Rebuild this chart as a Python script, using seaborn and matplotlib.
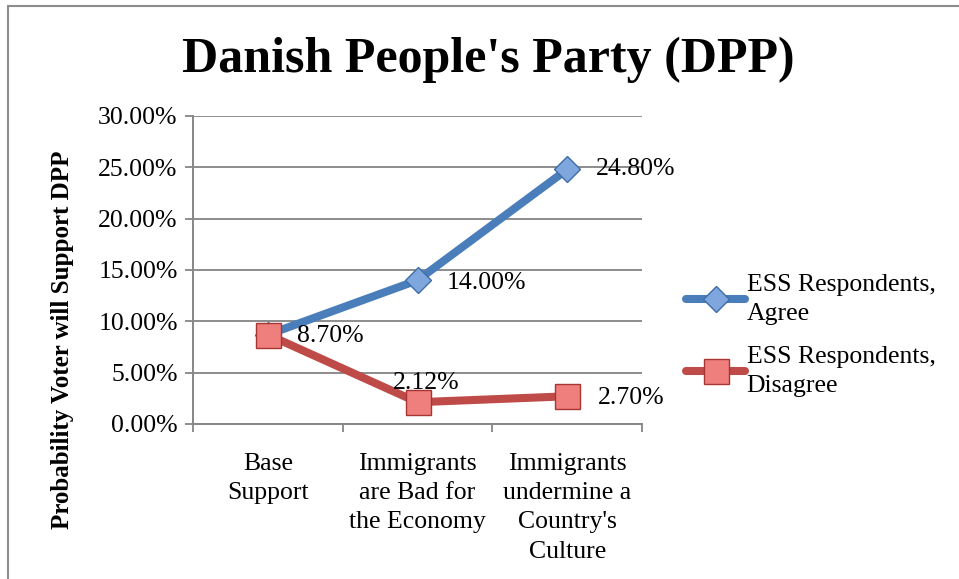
import matplotlib
matplotlib.use("Agg")
import matplotlib.pyplot as plt
from matplotlib.lines import Line2D
import pandas as pd
import seaborn as sns

# Datos
categories = ["Base\nSupport", "Immigrants\nare Bad for\nthe Economy", "Immigrants\nundermine a\nCountry's\nCulture"]
agree = [8.70, 14.00, 24.80]
disagree = [8.70, 2.12, 2.70]
agree_labels = [None, "14.00%", "24.80%"]
disagree_labels = ["8.70%", "2.12%", "2.70%"]
y_ticks = [0, 5, 10, 15, 20, 25, 30]

series_names = ["ESS Respondents,\nAgree", "ESS Respondents,\nDisagree"]

df = pd.DataFrame({
    "pos": list(range(len(categories))) * 2,
    "value": agree + disagree,
    "serie": [series_names[0]] * 3 + [series_names[1]] * 3,
})

sns.set_style("white")
plt.rcParams['font.family'] = ['Liberation Serif', 'DejaVu Serif']
plt.rcParams['text.color'] = 'black'
plt.rcParams['xtick.color'] = 'black'
plt.rcParams['ytick.color'] = 'black'

BLUE = "#4A7EBB"
RED = "#BE4B48"

fig = plt.figure(figsize=(9.59, 5.79), dpi=100)
ax = fig.add_axes([193 / 959, 1 - 424 / 579, 449 / 959, 308 / 579])

sns.lineplot(data=df[df.serie == series_names[0]], x="pos", y="value", ax=ax,
             color=BLUE, linewidth=5.8, marker="D", markersize=13,
             markerfacecolor="#7FA7DE", markeredgecolor="#3D6DA8", markeredgewidth=1,
             solid_capstyle="round", label=series_names[0], zorder=3)
sns.lineplot(data=df[df.serie == series_names[1]], x="pos", y="value", ax=ax,
             color=RED, linewidth=5.8, marker="s", markersize=18,
             markerfacecolor="#EE7F7D", markeredgecolor="#A83532", markeredgewidth=1,
             solid_capstyle="round", label=series_names[1], zorder=4)

# Etiquetas de datos
offsets_agree = [None, (21, -2), (21, 0)]
offsets_dis = [(21, -1), (-18, 14), (22, -1)]
for i, lab in enumerate(agree_labels):
    if lab:
        ax.annotate(lab, (i, agree[i]), xytext=offsets_agree[i], textcoords="offset points",
                    ha="left", va="center", fontsize=18.5, zorder=5)
for i, lab in enumerate(disagree_labels):
    ax.annotate(lab, (i, disagree[i]), xytext=offsets_dis[i], textcoords="offset points",
                ha="left", va="center", fontsize=18.5, zorder=5)

ax.set_xlim(-0.5, 2.5)
ax.set_ylim(0, 30)
ax.set_yticks(y_ticks)
ax.set_yticklabels([f"{t:.2f}%" for t in y_ticks], fontsize=18.5)
ax.set_xticks([-0.5, 0.5, 1.5, 2.5])
ax.set_xticklabels([])
ax.set_xticks(range(len(categories)), minor=True)
ax.set_xticklabels(categories, minor=True, fontsize=18.5, linespacing=1.42, va="top")
ax.tick_params(axis="x", which="minor", length=0, pad=21)
ax.tick_params(axis="x", which="major", length=6, width=1.3, color="#868686", direction="out", bottom=True)
ax.tick_params(axis="y", length=6, width=1.3, color="#868686", direction="out", left=True, pad=5)
ax.set_xlabel("")
ax.set_ylabel("")
ax.grid(axis="y", color="#8C8C8C", linewidth=1.4)
ax.set_axisbelow(True)
for s in ["top", "right"]:
    ax.spines[s].set_visible(False)
for s in ["left", "bottom"]:
    ax.spines[s].set_color("#868686")
    ax.spines[s].set_linewidth(1.4)

leg = ax.legend(loc="upper left", bbox_to_anchor=(676 / 959, 1 - 264 / 579),
                bbox_transform=fig.transFigure, frameon=False, fontsize=18.5,
                handlelength=2.3, handletextpad=0.05, labelspacing=0.8, borderaxespad=0)
for t in leg.get_texts():
    t.set_linespacing(1.42)

fig.suptitle("Danish People's Party (DPP)", x=488 / 959, y=1 - 60 / 579, va="center",
             fontsize=36, fontweight="bold")
fig.text(62 / 959, 1 - 340 / 579, "Probability Voter will Support DPP", rotation=90,
         ha="center", va="center", fontsize=18, fontweight="bold")

# Borde del grafico
fig.add_artist(Line2D([8 / 959, 8 / 959], [0, 1 - 6 / 579], color="#8C8C8C", linewidth=1.5))
fig.add_artist(Line2D([8 / 959, 1], [1 - 6 / 579, 1 - 6 / 579], color="#8C8C8C", linewidth=1.5))

fig.savefig("out.png", dpi=100)
